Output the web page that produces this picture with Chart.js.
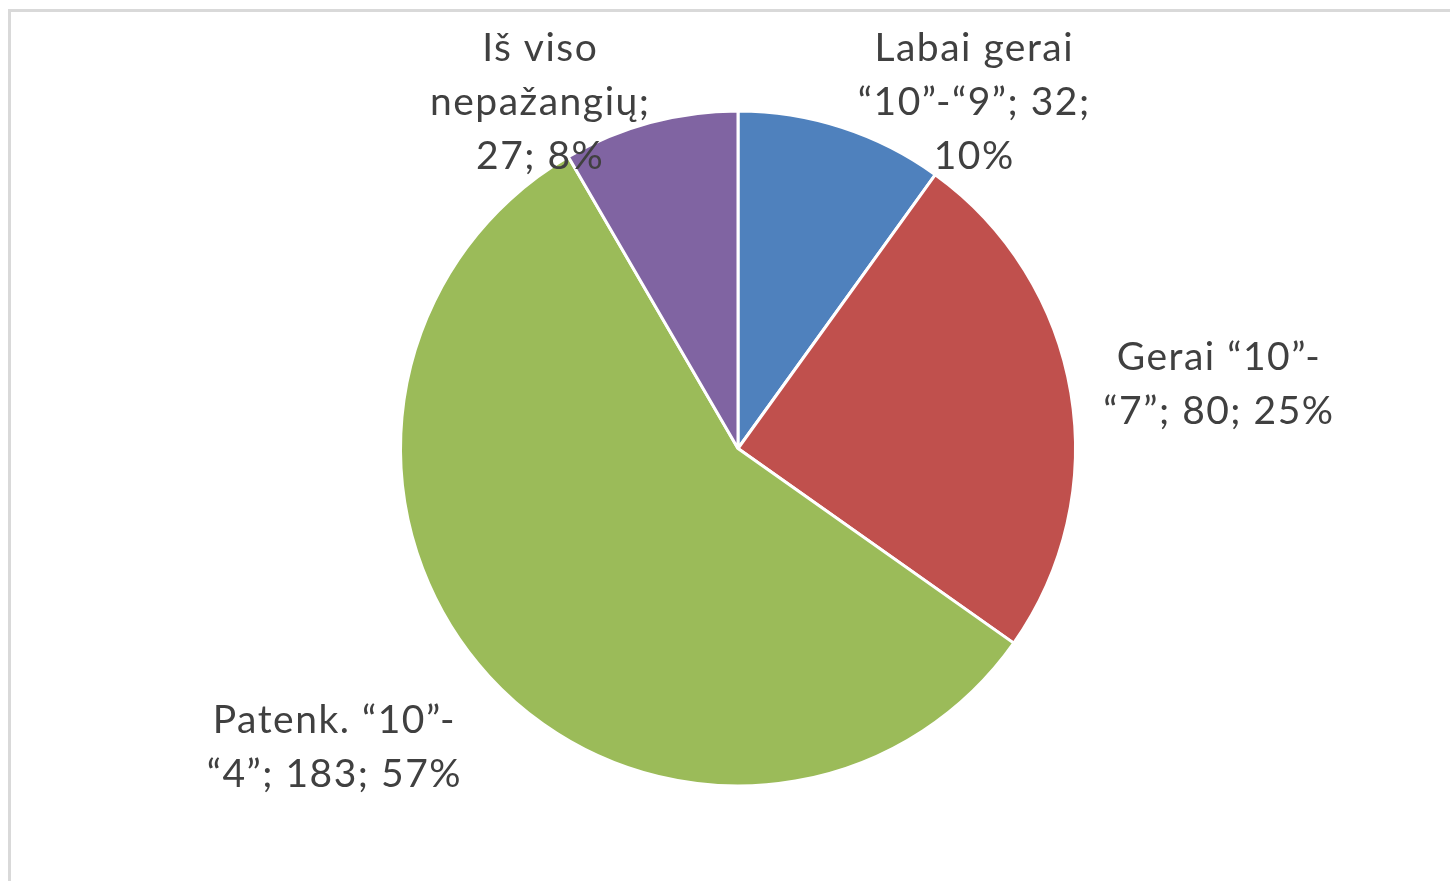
<!DOCTYPE html>
<html>
<head>
<meta charset="utf-8">
<script src="https://cdn.jsdelivr.net/npm/chart.js@4.4.0/dist/chart.umd.min.js"></script>
<style>
    body { margin: 0; background: #fff; }
    #rėmas { position: absolute; left: 8px; top: 9px; right: 0; bottom: 0;
             border-top: 3px solid #d9d9d9; border-left: 3px solid #d9d9d9; }
    #dvCanvas { position: absolute; left: 0; top: 0; width: 1450px; height: 881px; }
</style>
</head>
<body>
<div id="rėmas"></div>
<div id="dvCanvas"><canvas id="canvasPyragas" width="1450" height="881"></canvas></div>
<script>
var kategorijos = ['Labai gerai “10”-“9”', 'Gerai “10”-“7”', 'Patenk. “10”-“4”', 'Iš viso nepažangių'];
var mokiniai = [32, 80, 183, 27];
var procentai = [10, 25, 57, 8];

var spalvos = ['#4f81bd', '#c0504d', '#9bbb59', '#8064a2'];
// etikeciu vieta (spindulio dalimis nuo centro) ir eilutes plotis
var etikeciuVieta = [[0.70, -1.024], [1.425, -0.19], [-1.196, 0.886], [-0.586, -1.024]];
var eilutesPlotis = [258, 238, 266, 248];
var sriftas = '39px Lato';

function laužyti(ctx, tekstas, plotis) {
    var dalys = tekstas.match(/[^\s-]+-?\s*|-\s*/g);
    var eilutes = [], dabar = '';
    dalys.forEach(function (d) {
        var bandymas = dabar + d;
        if (dabar && ctx.measureText(bandymas.trim()).width > plotis) {
            eilutes.push(dabar.trim());
            dabar = d;
        } else {
            dabar = bandymas;
        }
    });
    if (dabar) eilutes.push(dabar.trim());
    return eilutes;
}

var etiketes = {
    id: 'etiketes',
    afterDraw: function (chart) {
        var ctx = chart.ctx;
        var lankai = chart.getDatasetMeta(0).data;
        ctx.save();
        ctx.font = sriftas;
        ctx.letterSpacing = '1.5px';
        ctx.fillStyle = '#404040';
        ctx.textAlign = 'center';
        ctx.textBaseline = 'middle';
        lankai.forEach(function (lankas, i) {
            var r = lankas.outerRadius;
            var cx = lankas.x + etikeciuVieta[i][0] * r;
            var cy = lankas.y + etikeciuVieta[i][1] * r;
            var tekstas = kategorijos[i] + '; ' + mokiniai[i] + '; ' + procentai[i] + '%';
            var eil = laužyti(ctx, tekstas, eilutesPlotis[i]);
            var aukstis = 54;
            var y0 = cy - (eil.length - 1) * aukstis / 2;
            eil.forEach(function (e, k) {
                ctx.fillText(e, cx, y0 + k * aukstis);
            });
        });
        ctx.restore();
    }
};

var ctx = document.getElementById('canvasPyragas').getContext('2d');
window.myPie = new Chart(ctx, {
    type: 'pie',
    data: {
        labels: kategorijos,
        datasets: [{
            data: mokiniai,
            backgroundColor: spalvos,
            borderColor: '#ffffff',
            borderWidth: 3
        }]
    },
    options: {
        responsive: false,
        animation: false,
        layout: { padding: { top: 109, bottom: 93, left: 399, right: 373 } },
        plugins: {
            legend: { display: false },
            tooltip: { enabled: false }
        }
    },
    plugins: [etiketes]
});
</script>
</body>
</html>
